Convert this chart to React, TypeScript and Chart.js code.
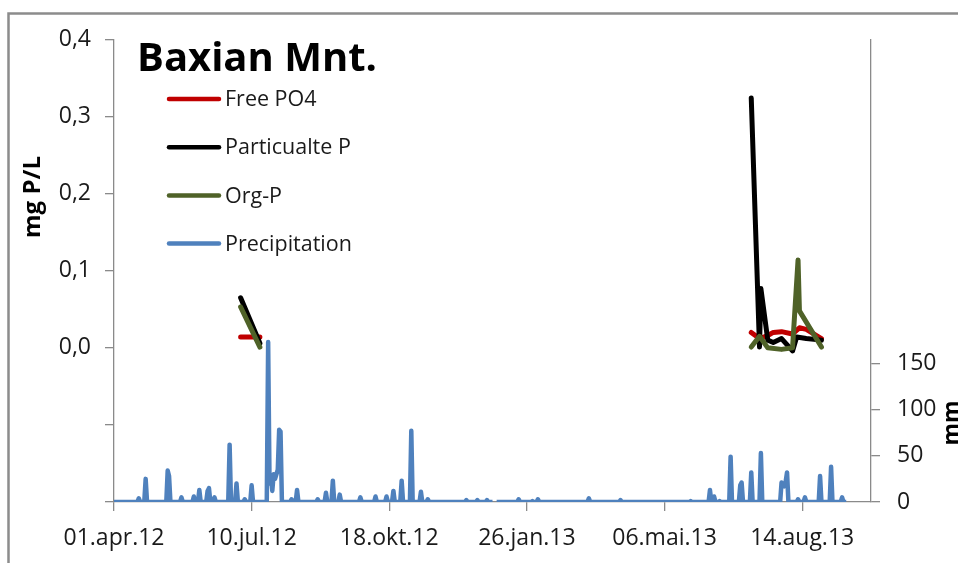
import React, { useEffect, useRef } from 'react';
import { Chart, registerables } from 'chart.js';

Chart.register(...registerables);

// ---------- DATA ----------
const ORIGIN_DATE = '2012-04-01';
const AXIS_END_DATE = '2013-10-03';
const xTickDates = ['2012-04-01', '2012-07-10', '2012-10-18', '2013-01-26', '2013-05-06', '2013-08-14'];
const monthNames = ['jan', 'feb', 'mar', 'apr', 'mai', 'jun', 'jul', 'aug', 'sep', 'okt', 'nov', 'des'];
const leftTicks = [-0.2, -0.1, 0, 0.1, 0.2, 0.3, 0.4];
const rightTicks = [0, 50, 100, 150];

const titleText = 'Baxian Mnt.';
const leftAxisTitle = 'mg P/L';
const rightAxisTitle = 'mm';
const seriesLabels = ['Free PO4', 'Particualte P', 'Org-P', 'Precipitation'];

const freePO4Dates = ['2012-07-02', '2012-07-16', '2013-07-08', '2013-07-14', '2013-07-20', '2013-07-24', '2013-07-30', '2013-08-07', '2013-08-12', '2013-08-17', '2013-08-28'];
const freePO4Values = [0.014, 0.014, 0.02, 0.012, 0.016, 0.02, 0.021, 0.018, 0.026, 0.024, 0.012];

const particulateDates = ['2012-07-02', '2012-07-16', '2013-07-08', '2013-07-14', '2013-07-15', '2013-07-20', '2013-07-24', '2013-07-30', '2013-08-07', '2013-08-10', '2013-08-17', '2013-08-28'];
const particulateValues = [0.065, 0.006, 0.324, 0.001, 0.077, 0.01, 0.007, 0.012, -0.004, 0.014, 0.012, 0.01];

const orgPDates = ['2012-07-02', '2012-07-16', '2013-07-08', '2013-07-14', '2013-07-20', '2013-07-30', '2013-08-07', '2013-08-11', '2013-08-12', '2013-08-28'];
const orgPValues = [0.053, 0.001, 0.001, 0.015, 0.0, -0.002, 0.0, 0.114, 0.048, 0.001];

// daily precipitation record: rainy days (mm); all other days of the record are 0 mm
const precipStartDate = '2012-04-01';
const precipEndDate = '2013-09-15';
const precipDates = [
  '2012-04-19', '2012-04-24', '2012-05-10', '2012-05-11', '2012-05-20', '2012-05-29', '2012-06-02', '2012-06-08',
  '2012-06-09', '2012-06-13', '2012-06-24', '2012-06-29', '2012-07-05', '2012-07-10', '2012-07-22', '2012-07-23',
  '2012-07-24', '2012-07-25', '2012-07-26', '2012-07-27', '2012-07-28', '2012-07-29', '2012-07-30', '2012-07-31',
  '2012-08-08', '2012-08-12', '2012-08-27', '2012-09-02', '2012-09-07', '2012-09-12', '2012-09-27', '2012-10-08',
  '2012-10-16', '2012-10-21', '2012-10-27', '2012-11-03', '2012-11-10', '2012-11-15', '2012-12-13', '2012-12-21',
  '2012-12-28', '2013-01-20', '2013-01-30', '2013-02-03', '2013-03-12', '2013-04-04', '2013-05-25', '2013-06-08',
  '2013-06-11', '2013-06-15', '2013-06-23', '2013-06-30', '2013-07-01', '2013-07-08', '2013-07-15', '2013-07-30',
  '2013-07-31', '2013-08-01', '2013-08-02', '2013-08-03', '2013-08-11', '2013-08-16', '2013-08-27', '2013-09-04',
  '2013-09-12',
];
const precipMm = [
  4, 25, 34, 28, 5, 6, 13, 12,
  15, 5, 62, 20, 3, 18, 173, 20,
  28, 12, 30, 25, 30, 35, 78, 76,
  3, 13, 3, 10, 23, 8, 5, 6,
  6, 12, 23, 77, 11, 3, 2, 2,
  2, 3, 1, 3, 4, 2, 1, 13,
  6, 1, 49, 18, 21, 32, 53, 21,
  19, 17, 22, 32, 3, 5, 28, 38,
  5,
];
const precipMissingDates = ['2013-01-02', '2013-01-03'];

// ---------- HELPERS ----------
const DAY_MS = 86400000;
const toUTC = (iso: string) => Date.UTC(+iso.slice(0, 4), +iso.slice(5, 7) - 1, +iso.slice(8, 10));
const dayIndex = (iso: string) => Math.round((toUTC(iso) - toUTC(ORIGIN_DATE)) / DAY_MS);
const fmtDay = (d: number) => {
  const dt = new Date(toUTC(ORIGIN_DATE) + Math.round(d) * DAY_MS);
  return String(dt.getUTCDate()).padStart(2, '0') + '.' + monthNames[dt.getUTCMonth()] + '.' + String(dt.getUTCFullYear()).slice(2);
};
const toPoints = (dates: string[], values: number[]) => dates.map((d, i) => ({ x: dayIndex(d), y: values[i] }));

const buildPrecip = () => {
  const rain = new Map<number, number>();
  precipDates.forEach((d, i) => rain.set(dayIndex(d), precipMm[i]));
  const missing = new Set(precipMissingDates.map(dayIndex));
  const pts: { x: number; y: number | null }[] = [];
  for (let d = dayIndex(precipStartDate); d <= dayIndex(precipEndDate); d++) {
    pts.push({ x: d, y: missing.has(d) ? null : rain.get(d) ?? 0 });
  }
  return pts;
};

const FONT = "'Open Sans', 'Noto Sans', sans-serif";
const AXIS_COLOR = '#8a8a8a';
const TEXT_COLOR = '#1a1a1a';
const COLORS = ['#C00000', '#000000', '#4F6228', '#4F81BD'];

const decorPlugin = {
  id: 'decor',
  beforeDraw(chart: any) {
    const { ctx, width, height } = chart;
    ctx.save();
    ctx.fillStyle = '#ffffff';
    ctx.fillRect(0, 0, width, height);
    ctx.strokeStyle = '#8c8c8c';
    ctx.lineWidth = 2.5;
    ctx.beginPath();
    ctx.moveTo(8.5, height);
    ctx.lineTo(8.5, 13.5);
    ctx.lineTo(width, 13.5);
    ctx.stroke();
    ctx.restore();
  },
  afterDraw(chart: any) {
    const { ctx, chartArea } = chart;
    const L = chartArea.left;
    const T = chartArea.top;
    ctx.save();
    // title
    ctx.fillStyle = '#000';
    ctx.font = `bold 40px ${FONT}`;
    ctx.textAlign = 'left';
    ctx.textBaseline = 'alphabetic';
    ctx.fillText(titleText, L + 23, T + 31.5);
    // legend
    chart.data.datasets.forEach((ds: any, i: number) => {
      const y = T + 59.5 + i * 48.2;
      ctx.strokeStyle = ds.borderColor;
      ctx.lineWidth = 4.5;
      ctx.lineCap = 'round';
      ctx.beginPath();
      ctx.moveTo(L + 55, y);
      ctx.lineTo(L + 105, y);
      ctx.stroke();
      ctx.fillStyle = TEXT_COLOR;
      ctx.font = `21.5px ${FONT}`;
      ctx.textBaseline = 'middle';
      ctx.fillText(ds.label, L + 111, y + 1);
    });
    // axis titles
    ctx.fillStyle = '#000';
    ctx.textAlign = 'center';
    ctx.textBaseline = 'middle';
    ctx.font = `bold 24px ${FONT}`;
    ctx.translate(33, 197);
    ctx.rotate(-Math.PI / 2);
    ctx.fillText(leftAxisTitle, 0, 0);
    ctx.setTransform(1, 0, 0, 1, 0, 0);
    ctx.font = `bold 23px ${FONT}`;
    ctx.translate(952, 423);
    ctx.rotate(-Math.PI / 2);
    ctx.fillText(rightAxisTitle, 0, 0);
    ctx.restore();
  },
};

export default function App() {
  const ref = useRef<HTMLCanvasElement | null>(null);

  useEffect(() => {
    if (!ref.current) return;
    const tickFont = { family: FONT, size: 23 };
    const axisCommon = {
      grid: { drawOnChartArea: false, drawTicks: true, tickLength: 9, color: AXIS_COLOR, lineWidth: 1.3 },
      border: { display: true, color: AXIS_COLOR, width: 1.3 },
    };
    const chart = new Chart(ref.current, {
      type: 'line',
      data: {
        datasets: [
          { label: seriesLabels[0], data: toPoints(freePO4Dates, freePO4Values), borderColor: COLORS[0], borderWidth: 5, yAxisID: 'y', order: 3, spanGaps: 100 },
          { label: seriesLabels[1], data: toPoints(particulateDates, particulateValues), borderColor: COLORS[1], borderWidth: 5, yAxisID: 'y', order: 2, spanGaps: 100 },
          { label: seriesLabels[2], data: toPoints(orgPDates, orgPValues), borderColor: COLORS[2], borderWidth: 5, yAxisID: 'y', order: 1, spanGaps: 100 },
          { label: seriesLabels[3], data: buildPrecip(), borderColor: COLORS[3], borderWidth: 4.5, yAxisID: 'y1', order: 0, spanGaps: false, borderCapStyle: 'butt' },
        ] as any,
      },
      options: {
        responsive: false,
        animation: false,
        events: [],
        elements: {
          point: { radius: 0 },
          line: { tension: 0, borderJoinStyle: 'round', borderCapStyle: 'round', fill: false },
        },
        layout: { padding: { top: 39.5, left: 0, right: 0, bottom: 0 } },
        plugins: { legend: { display: false }, tooltip: { enabled: false }, title: { display: false } },
        scales: {
          x: {
            type: 'linear',
            min: dayIndex(ORIGIN_DATE),
            max: dayIndex(AXIS_END_DATE),
            ...axisCommon,
            afterBuildTicks: (s: any) => { s.ticks = xTickDates.map((d) => ({ value: dayIndex(d) })); },
            afterFit: (s: any) => { s.height = 61; },
            ticks: { callback: (v: any) => fmtDay(Number(v)), font: tickFont, color: TEXT_COLOR, padding: 14, maxRotation: 0, autoSkip: false },
          },
          y: {
            type: 'linear',
            position: 'left',
            min: -0.2,
            max: 0.4,
            ...axisCommon,
            afterBuildTicks: (s: any) => { s.ticks = leftTicks.map((v) => ({ value: v })); },
            afterFit: (s: any) => { s.width = 114; },
            ticks: { callback: (v: any) => (Number(v) < -1e-9 ? '' : Number(v).toFixed(1).replace('.', ',')), font: tickFont, color: TEXT_COLOR, padding: 14 },
          },
          y1: {
            type: 'linear',
            position: 'right',
            min: 0,
            max: 500,
            ...axisCommon,
            afterBuildTicks: (s: any) => { s.ticks = rightTicks.map((v) => ({ value: v })); },
            afterFit: (s: any) => { s.width = 87; },
            ticks: { callback: (v: any) => String(v), font: tickFont, color: TEXT_COLOR, padding: 17 },
          },
        },
      } as any,
      plugins: [decorPlugin],
    });
    return () => chart.destroy();
  }, []);

  return (
    <div style={{ position: 'absolute', left: 0, top: 0, width: 958, height: 563 }}>
      <canvas ref={ref} width={958} height={563} style={{ display: 'block', width: 958, height: 563 }} />
    </div>
  );
}
